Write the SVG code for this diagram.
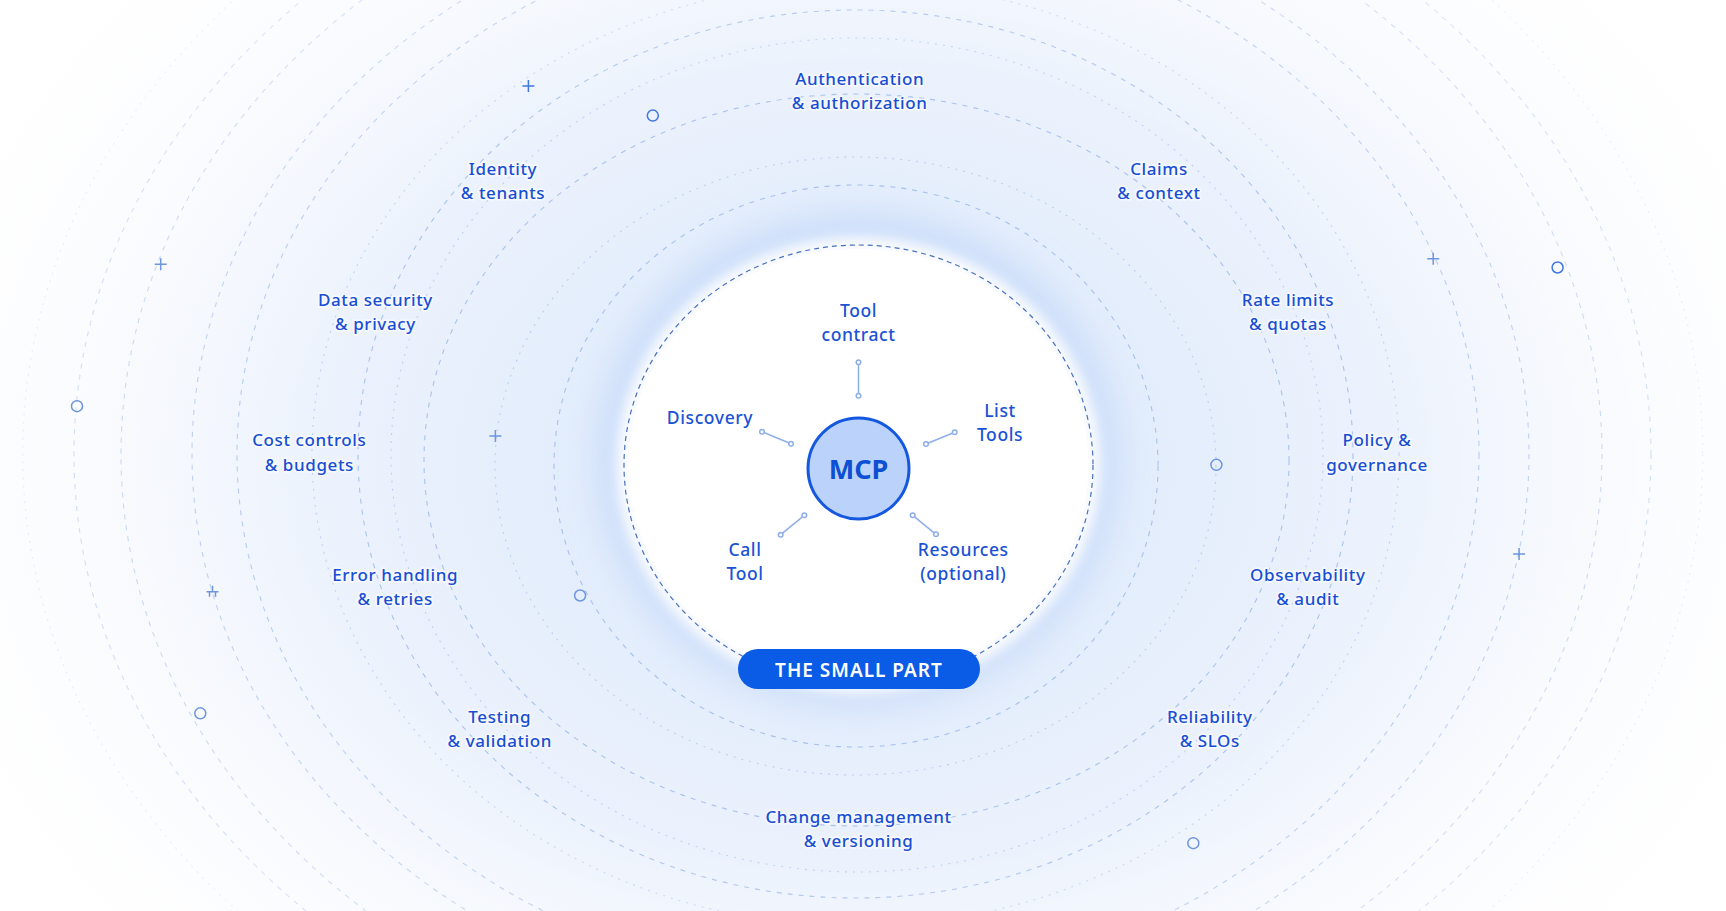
<svg xmlns="http://www.w3.org/2000/svg" width="1726" height="911" viewBox="0 0 1726 911">
  <defs>
    <radialGradient id="bg" cx="858" cy="465" r="980" gradientUnits="userSpaceOnUse" gradientTransform="translate(858 465) scale(1 0.78) translate(-858 -465)">
      <stop offset="0" stop-color="#dbe7fb"/>
      <stop offset="0.35" stop-color="#e5eefc"/>
      <stop offset="0.62" stop-color="#eff4fd"/>
      <stop offset="0.85" stop-color="#f8fafe"/>
      <stop offset="1" stop-color="#ffffff"/>
    </radialGradient>
    <radialGradient id="vig" cx="858" cy="465" r="1000" gradientUnits="userSpaceOnUse" gradientTransform="translate(858 465) scale(1 0.72) translate(-858 -465)">
      <stop offset="0.55" stop-color="#ffffff" stop-opacity="0"/>
      <stop offset="0.85" stop-color="#ffffff" stop-opacity="0.55"/>
      <stop offset="1" stop-color="#ffffff" stop-opacity="0.85"/>
    </radialGradient>
    <filter id="blurBig" x="-50%" y="-50%" width="200%" height="200%">
      <feGaussianBlur stdDeviation="18"/>
    </filter>
    <filter id="blurSmall" x="-20%" y="-20%" width="140%" height="140%">
      <feGaussianBlur stdDeviation="6"/>
    </filter>
    <style>
      .ring{fill:none;stroke:#7fa3e3;stroke-width:1.1;stroke-dasharray:5 6;opacity:0.6}
      .ring.f{stroke-dasharray:2 6;opacity:0.4}
      .lbl{font-family:"Noto Sans","DejaVu Sans",sans-serif;font-size:17px;font-weight:500;letter-spacing:0.6px;fill:#174ed3;text-anchor:middle;stroke:#ffffff;stroke-width:3.5px;stroke-opacity:0.55;stroke-linejoin:round;paint-order:stroke}
      .in{font-size:17.5px;fill:#1a52d6;stroke:none}
      .deco{fill:none;stroke:#3f76df;stroke-width:1.5}
      .deco.l{stroke:#6e95e0}
      .spoke{stroke:#8eaeea;stroke-width:1.5;fill:none}
      .dot{fill:#ffffff;stroke:#8eaeea;stroke-width:1.5}
    </style>
  </defs>

  <rect width="1726" height="911" fill="#ffffff"/>
  <rect width="1726" height="911" fill="url(#bg)"/>
  <ellipse cx="858" cy="460" rx="262" ry="248" fill="#c8dbf9" opacity="0.85" filter="url(#blurBig)"/>

  <g id="rings">
    <ellipse class="ring" cx="856" cy="466" rx="302" ry="281"/>
    <ellipse class="ring f" cx="855.5" cy="466" rx="360.5" ry="309"/>
    <ellipse class="ring" cx="856.5" cy="460" rx="432.5" ry="366"/>
    <ellipse class="ring f" cx="857" cy="455" rx="466" ry="417"/>
    <ellipse class="ring" cx="855.5" cy="454" rx="497.5" ry="444"/>
    <ellipse class="ring f" cx="855.5" cy="454" rx="543.5" ry="472"/>
    <ellipse class="ring" cx="858" cy="454" rx="621" ry="530"/>
    <ellipse class="ring" cx="860.5" cy="454" rx="668.5" ry="565"/>
    <ellipse class="ring" cx="861.5" cy="454" rx="740.5" ry="615"/>
    <ellipse class="ring" cx="862.5" cy="454" rx="788.5" ry="645"/>
    <ellipse class="ring f" cx="862.75" cy="454" rx="840" ry="685"/>
  </g>

  <rect width="1726" height="911" fill="url(#vig)"/>

  <g id="decorations">
    <path class="deco" d="M522.4 85.9h12M528.4 79.9v12"/>
    <circle class="deco" cx="652.8" cy="115.6" r="5.5"/>
    <path class="deco l" d="M154.7 264.2h12M160.7 258.2v12"/>
    <circle class="deco l" cx="77" cy="406.2" r="5.5"/>
    <path class="deco l" d="M489.4 435.9h12M495.4 429.9v12"/>
    <path class="deco l" d="M206.5 591.7h12M212.5 585.7v6M209.5 591.7v5M215.5 591.7v5"/>
    <circle class="deco l" cx="580.1" cy="595.5" r="5.5"/>
    <circle class="deco l" cx="200.3" cy="713.3" r="5.5"/>
    <path class="deco l" d="M1427.2 258.7h12M1433.2 252.7v12"/>
    <circle class="deco" cx="1557.6" cy="267.5" r="5.5"/>
    <circle class="deco l" cx="1216.4" cy="464.8" r="5.5"/>
    <path class="deco l" d="M1513.1 553.9h12M1519.1 547.9v12"/>
    <circle class="deco l" cx="1193.3" cy="843.2" r="5.5"/>
  </g>

  <g id="small-part">
    <ellipse cx="858.5" cy="465" rx="242" ry="228" fill="#ffffff" opacity="0.9" filter="url(#blurSmall)"/>
    <ellipse cx="858.5" cy="465" rx="230" ry="216" fill="#ffffff"/>
    <ellipse cx="858.5" cy="465" rx="234.5" ry="220" fill="none" stroke="#4a70bf" stroke-width="1.2" stroke-dasharray="5 4"/>
  </g>

  <g id="connectors">
    <line class="spoke" x1="858.5" y1="362.3" x2="858.5" y2="395.7"/>
    <circle class="dot" cx="858.5" cy="362.3" r="2.3"/>
    <circle class="dot" cx="858.5" cy="395.7" r="2.3"/>
    <line class="spoke" x1="762" y1="431.7" x2="791" y2="443.7"/>
    <circle class="dot" cx="762" cy="431.7" r="2.3"/>
    <circle class="dot" cx="791" cy="443.7" r="2.3"/>
    <line class="spoke" x1="926" y1="444" x2="954.7" y2="432.3"/>
    <circle class="dot" cx="926" cy="444" r="2.3"/>
    <circle class="dot" cx="954.7" cy="432.3" r="2.3"/>
    <line class="spoke" x1="780.7" y1="534.7" x2="804.3" y2="515.3"/>
    <circle class="dot" cx="780.7" cy="534.7" r="2.3"/>
    <circle class="dot" cx="804.3" cy="515.3" r="2.3"/>
    <line class="spoke" x1="912.7" y1="515.3" x2="936" y2="534.3"/>
    <circle class="dot" cx="912.7" cy="515.3" r="2.3"/>
    <circle class="dot" cx="936" cy="534.3" r="2.3"/>
  </g>

  <g id="mcp">
    <circle cx="858.5" cy="468.5" r="50.5" fill="#bbd3fa" stroke="#1558e0" stroke-width="3"/>
    <text x="858.5" y="479" font-family="Noto Sans, DejaVu Sans, sans-serif" font-size="27" font-weight="bold" fill="#0d4fd3" text-anchor="middle">MCP</text>
  </g>

  <g id="tool-contract"><text class="lbl in" x="858.5" y="317">Tool</text><text class="lbl in" x="858.5" y="341">contract</text></g>
  <g id="discovery"><text class="lbl in" x="710" y="424">Discovery</text></g>
  <g id="list-tools"><text class="lbl in" x="1000" y="416.7">List</text><text class="lbl in" x="1000" y="441">Tools</text></g>
  <g id="call-tool"><text class="lbl in" x="745" y="555.7">Call</text><text class="lbl in" x="745" y="580">Tool</text></g>
  <g id="resources"><text class="lbl in" x="963.3" y="555.7">Resources</text><text class="lbl in" x="963.3" y="580">(optional)</text></g>

  <g id="the-small-part">
    <rect x="738" y="649" width="242" height="40" rx="20" fill="#0a5be6"/>
    <text x="859" y="676.5" font-family="Noto Sans, DejaVu Sans, sans-serif" font-size="19" font-weight="600" fill="#ffffff" text-anchor="middle" letter-spacing="1">THE SMALL PART</text>
  </g>

  <g id="auth"><text class="lbl" x="859.7" y="85">Authentication</text><text class="lbl" x="859.7" y="109">&amp; authorization</text></g>
  <g id="identity"><text class="lbl" x="503" y="174.5">Identity</text><text class="lbl" x="503" y="198.7">&amp; tenants</text></g>
  <g id="claims"><text class="lbl" x="1159" y="174.5">Claims</text><text class="lbl" x="1159" y="198.7">&amp; context</text></g>
  <g id="data-security"><text class="lbl" x="375.4" y="305.5">Data security</text><text class="lbl" x="375.4" y="329.7">&amp; privacy</text></g>
  <g id="rate-limits"><text class="lbl" x="1288" y="305.5">Rate limits</text><text class="lbl" x="1288" y="329.7">&amp; quotas</text></g>
  <g id="cost-controls"><text class="lbl" x="309.3" y="446.4">Cost controls</text><text class="lbl" x="309.3" y="470.6">&amp; budgets</text></g>
  <g id="policy"><text class="lbl" x="1377" y="446.4">Policy &amp;</text><text class="lbl" x="1377" y="470.6">governance</text></g>
  <g id="error-handling"><text class="lbl" x="395.2" y="580.7">Error handling</text><text class="lbl" x="395.2" y="604.9">&amp; retries</text></g>
  <g id="observability"><text class="lbl" x="1307.8" y="580.7">Observability</text><text class="lbl" x="1307.8" y="604.9">&amp; audit</text></g>
  <g id="testing"><text class="lbl" x="499.8" y="722.7">Testing</text><text class="lbl" x="499.8" y="746.9">&amp; validation</text></g>
  <g id="reliability"><text class="lbl" x="1209.8" y="722.7">Reliability</text><text class="lbl" x="1209.8" y="746.9">&amp; SLOs</text></g>
  <g id="change-mgmt"><text class="lbl" x="858.6" y="822.9">Change management</text><text class="lbl" x="858.6" y="847">&amp; versioning</text></g>
</svg>
